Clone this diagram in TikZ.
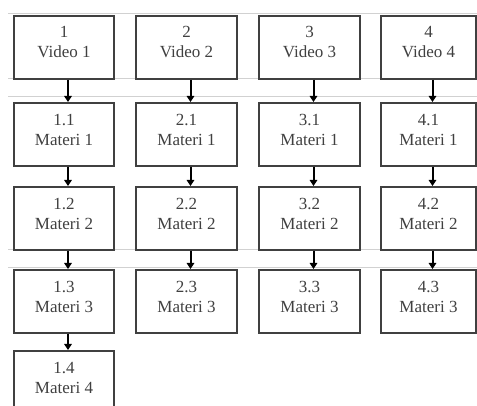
\documentclass[tikz,border=0pt]{standalone}
\usepackage{fontspec}
\setmainfont{Liberation Serif}
\usetikzlibrary{arrows.meta}
\begin{document}
\begin{tikzpicture}[x=1pt,y=-1pt,
  box/.style={draw=black!75, line width=2pt, anchor=north west, minimum width=100pt, minimum height=63pt, inner sep=0pt, fill=white},
  lbl/.style={align=center, font=\fontsize{17}{20}\selectfont, text=black!75, inner sep=0pt},
  conn/.style={draw=black, line width=2pt, -{Triangle[length=6pt,width=7.5pt]}},
  faint/.style={draw=black!18, line width=0.7pt}]
\clip (0,0) rectangle (477,406);
\fill[white] (0,0) rectangle (477,406);
% faint table rules
\draw[faint] (8,13) -- (477,13);
\draw[faint] (8,78) -- (477,78);
\draw[faint] (8,96) -- (477,96);
\draw[faint] (8,249) -- (477,249);
\draw[faint] (8,267) -- (477,267);
% column 1
\node[box] (a0) at (13,15) {};
\node[box] (a1) at (13,102) {};
\node[box] (a2) at (13,186) {};
\node[box] (a3) at (13,269) {};
\node[box] (a4) at (13,350) {};
% column 2
\node[box, minimum width=101pt] (b0) at (135,15) {};
\node[box, minimum width=101pt] (b1) at (135,102) {};
\node[box, minimum width=101pt] (b2) at (135,186) {};
\node[box, minimum width=101pt] (b3) at (135,269) {};
% column 3
\node[box, minimum width=101pt] (c0) at (258,15) {};
\node[box, minimum width=101pt] (c1) at (258,102) {};
\node[box, minimum width=101pt] (c2) at (258,186) {};
\node[box, minimum width=101pt] (c3) at (258,269) {};
% column 4
\node[box, minimum width=95pt] (d0) at (380,15) {};
\node[box, minimum width=95pt] (d1) at (380,102) {};
\node[box, minimum width=95pt] (d2) at (380,186) {};
\node[box, minimum width=95pt] (d3) at (380,269) {};
% labels
\node[lbl] (ta0) at ([yshift=5pt]a0.center) {1\\Video 1};
\node[lbl] (ta1) at ([yshift=5pt]a1.center) {1.1\\Materi 1};
\node[lbl] (ta2) at ([yshift=5pt]a2.center) {1.2\\Materi 2};
\node[lbl] (ta3) at ([yshift=5pt]a3.center) {1.3\\Materi 3};
\node[lbl] (ta4) at ([yshift=5pt]a4.center) {1.4\\Materi 4};
\node[lbl] (tb0) at ([yshift=5pt]b0.center) {2\\Video 2};
\node[lbl] (tb1) at ([yshift=5pt]b1.center) {2.1\\Materi 1};
\node[lbl] (tb2) at ([yshift=5pt]b2.center) {2.2\\Materi 2};
\node[lbl] (tb3) at ([yshift=5pt]b3.center) {2.3\\Materi 3};
\node[lbl] (tc0) at ([yshift=5pt]c0.center) {3\\Video 3};
\node[lbl] (tc1) at ([yshift=5pt]c1.center) {3.1\\Materi 1};
\node[lbl] (tc2) at ([yshift=5pt]c2.center) {3.2\\Materi 2};
\node[lbl] (tc3) at ([yshift=5pt]c3.center) {3.3\\Materi 3};
\node[lbl] (td0) at ([yshift=5pt]d0.center) {4\\Video 4};
\node[lbl] (td1) at ([yshift=5pt]d1.center) {4.1\\Materi 1};
\node[lbl] (td2) at ([yshift=5pt]d2.center) {4.2\\Materi 2};
\node[lbl] (td3) at ([yshift=5pt]d3.center) {4.3\\Materi 3};
% connectors
\foreach \c in {a,b,c,d}{
  \draw[conn] ([xshift=4pt]\c0.south) -- ([xshift=4pt]\c1.north);
  \draw[conn] ([xshift=4pt]\c1.south) -- ([xshift=4pt]\c2.north);
  \draw[conn] ([xshift=4pt]\c2.south) -- ([xshift=4pt]\c3.north);
}
\draw[conn] ([xshift=4pt]a3.south) -- ([xshift=4pt]a4.north);
\end{tikzpicture}
\end{document}
